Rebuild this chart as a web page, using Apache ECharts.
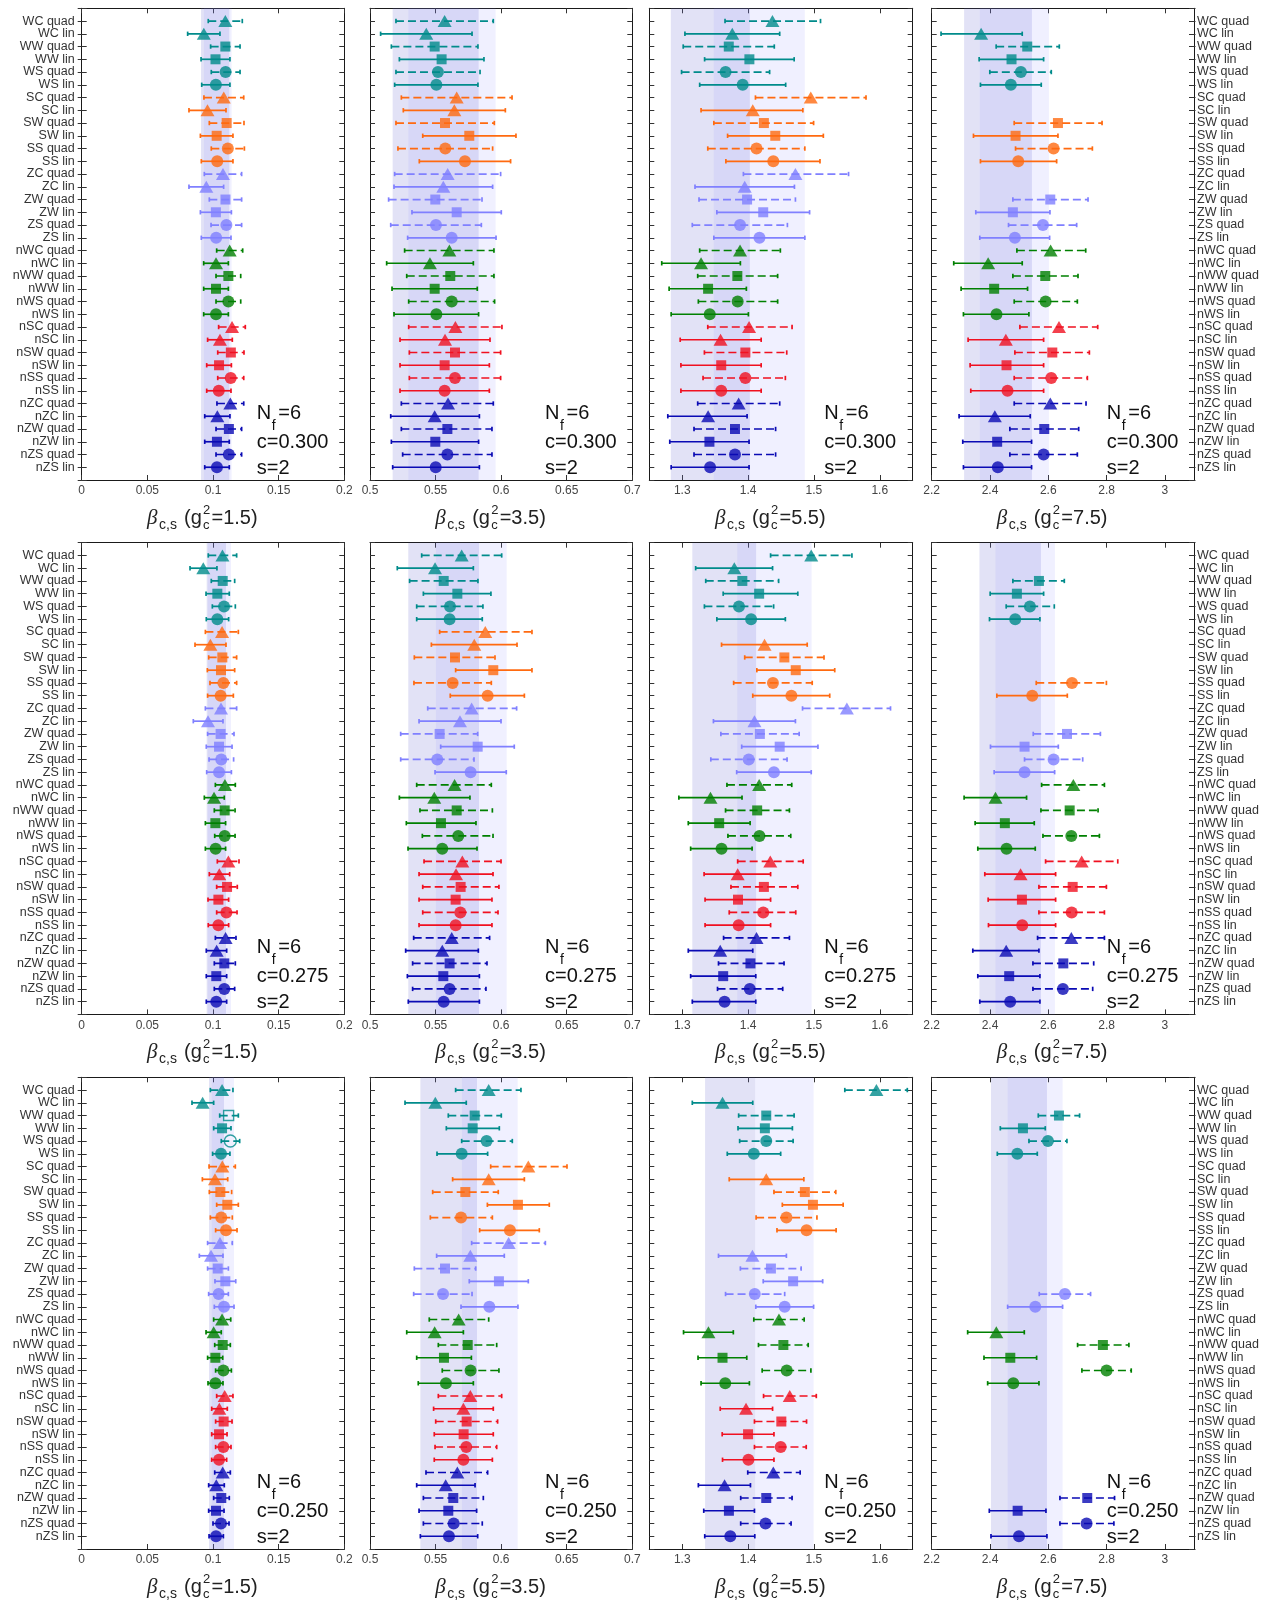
<!DOCTYPE html>
<html><head><meta charset="utf-8">
<script src="https://cdn.jsdelivr.net/npm/echarts@6/dist/echarts.min.js"></script>
<style>html,body{margin:0;padding:0;background:#fff}#c{width:1268px;height:1606px}</style>
</head><body><div id="c"></div>
<script>
const categories = ['WC quad','WC lin','WW quad','WW lin','WS quad','WS lin','SC quad','SC lin','SW quad','SW lin','SS quad','SS lin','ZC quad','ZC lin','ZW quad','ZW lin','ZS quad','ZS lin','nWC quad','nWC lin','nWW quad','nWW lin','nWS quad','nWS lin','nSC quad','nSC lin','nSW quad','nSW lin','nSS quad','nSS lin','nZC quad','nZC lin','nZW quad','nZW lin','nZS quad','nZS lin'];
const gLabels = ['1.5','3.5','5.5','7.5'];
const cLabels = ['0.300','0.275','0.250'];
const xTicks1 = [0,0.05,0.1,0.15,0.2];
const xTicks2 = [0.5,0.55,0.6,0.65,0.7];
const xTicks3 = [1.3,1.4,1.5,1.6];
const xTicks4 = [2.2,2.4,2.6,2.8,3.0];

// ---- c = 0.300 ----
const c300_g15_val=[0.1094,0.0930,0.1094,0.1019,0.1096,0.1022,0.1082,0.0958,0.1104,0.1028,0.1113,0.1032,0.1076,0.0949,0.1095,0.1022,0.1102,0.1024,0.1127,0.1023,0.1117,0.1023,0.1117,0.1023,0.1145,0.1053,0.1136,0.1046,0.1135,0.1044,0.1132,0.1033,0.1121,0.1030,0.1121,0.1030];
const c300_g15_lo=[0.0964,0.0807,0.0982,0.0909,0.0987,0.0914,0.0931,0.0817,0.0972,0.0904,0.0987,0.0911,0.0934,0.0817,0.0972,0.0904,0.0985,0.0911,0.1028,0.0929,0.1023,0.0929,0.1023,0.0929,0.1043,0.0959,0.1036,0.0952,0.1036,0.0952,0.1030,0.0937,0.1023,0.0937,0.1023,0.0937];
const c300_g15_hi=[0.1223,0.1053,0.1206,0.1129,0.1206,0.1129,0.1234,0.1099,0.1236,0.1152,0.1239,0.1152,0.1218,0.1081,0.1218,0.1140,0.1218,0.1137,0.1226,0.1117,0.1211,0.1117,0.1211,0.1117,0.1246,0.1147,0.1236,0.1140,0.1234,0.1137,0.1234,0.1129,0.1218,0.1124,0.1218,0.1124];
const c300_g15_band=[[0.0909,0.1124],[0.0931,0.1142]];

const c300_g35_val=[0.5569,0.5429,0.5493,0.5546,0.5518,0.5506,0.5661,0.5643,0.5572,0.5757,0.5574,0.5724,0.5592,0.5559,0.5498,0.5661,0.5503,0.5623,0.5605,0.5457,0.5612,0.5493,0.5623,0.5506,0.5651,0.5572,0.5648,0.5569,0.5648,0.5569,0.5595,0.5493,0.5590,0.5498,0.5590,0.5501];
const c300_g35_lo=[0.5198,0.5081,0.5163,0.5224,0.5198,0.5188,0.5239,0.5254,0.5198,0.5402,0.5213,0.5376,0.5188,0.5183,0.5142,0.5320,0.5158,0.5287,0.5264,0.5127,0.5280,0.5168,0.5295,0.5183,0.5295,0.5229,0.5300,0.5229,0.5300,0.5229,0.5239,0.5158,0.5239,0.5163,0.5249,0.5173];
const c300_g35_hi=[0.5940,0.5778,0.5823,0.5869,0.5839,0.5823,0.6083,0.6032,0.5948,0.6113,0.5935,0.6072,0.5996,0.5935,0.5854,0.6001,0.5849,0.5961,0.5945,0.5788,0.5945,0.5818,0.5950,0.5828,0.6006,0.5915,0.5996,0.5910,0.5996,0.5910,0.5940,0.5834,0.5930,0.5828,0.5930,0.5834];
const c300_g35_band=[[0.5173,0.5828],[0.5292,0.5958]];

const c300_g55_val=[1.437,1.376,1.3707,1.402,1.3658,1.3918,1.4952,1.4071,1.4240,1.4413,1.4128,1.4383,1.4719,1.3949,1.3985,1.4230,1.3878,1.4173,1.3878,1.3286,1.3837,1.3393,1.3842,1.3418,1.4015,1.3582,1.3959,1.3592,1.3959,1.3592,1.3857,1.3393,1.3801,1.3413,1.3801,1.3423];
const c300_g55_lo=[1.365,1.3041,1.3015,1.334,1.2990,1.3265,1.4112,1.3286,1.3480,1.3689,1.3388,1.3663,1.3929,1.3194,1.3255,1.3526,1.3153,1.3480,1.3265,1.2689,1.3235,1.2801,1.3245,1.2832,1.3388,1.2969,1.3337,1.2980,1.3316,1.2980,1.3235,1.2781,1.3179,1.2811,1.3179,1.2832];
const c300_g55_hi=[1.510,1.4480,1.4398,1.470,1.4327,1.4571,1.5791,1.4832,1.4995,1.5143,1.4862,1.5092,1.5526,1.4704,1.4719,1.4934,1.4597,1.4862,1.4490,1.3883,1.4449,1.3974,1.4449,1.4005,1.4668,1.4199,1.4587,1.4199,1.4566,1.4199,1.4480,1.3985,1.4418,1.4015,1.4418,1.4015];
const c300_g55_band=[[1.2827,1.4026],[1.3480,1.4862]];

const c300_g75_val=[null,2.3696,2.5278,2.4739,2.5060,2.4716,null,null,2.6332,2.4877,2.6183,2.4968,null,null,2.6069,2.4785,2.5817,2.4854,2.6080,2.3937,2.5897,2.4143,2.5908,2.4223,2.6367,2.4544,2.6138,2.4567,2.6103,2.4602,2.6069,2.4166,2.5862,2.4246,2.5840,2.4269];
const c300_g75_lo=[null,2.2321,2.4212,2.3628,2.3994,2.3673,null,null,2.4831,2.3433,2.4877,2.3673,null,null,2.4785,2.3513,2.4636,2.3650,2.4923,2.2756,2.4785,2.3009,2.4831,2.3089,2.5026,2.3249,2.4854,2.3318,2.4831,2.3341,2.4831,2.2940,2.4682,2.3066,2.4682,2.3089];
const c300_g75_hi=[null,2.5106,2.6378,2.5840,2.6103,2.5759,null,null,2.7845,2.6332,2.7513,2.6287,null,null,2.7364,2.6057,2.6974,2.6046,2.7284,2.5106,2.7020,2.5289,2.6997,2.5335,2.7696,2.5840,2.7410,2.5840,2.7341,2.5840,2.7295,2.5381,2.7043,2.5427,2.6997,2.5427];
const c300_g75_band=[[2.3112,2.5438],[2.3650,2.6023]];

// ---- c = 0.275 ----
const c275_g15_val=[0.1072,0.0926,0.1074,0.1033,0.1084,0.1033,0.1069,0.0980,0.1071,0.1061,0.1079,0.1058,0.1061,0.0962,0.1058,0.1046,0.1063,0.1046,0.1091,0.1008,0.1089,0.1018,0.1089,0.1020,0.1117,0.1048,0.1107,0.1041,0.1102,0.1041,0.1096,0.1028,0.1086,0.1025,0.1086,0.1025];
const c275_g15_lo=[0.0964,0.0825,0.0987,0.0947,0.0995,0.0949,0.0942,0.0863,0.0967,0.0957,0.0977,0.0959,0.0942,0.0850,0.0959,0.0949,0.0970,0.0952,0.1018,0.0934,0.1010,0.0942,0.1013,0.0942,0.1033,0.0972,0.1028,0.0962,0.1028,0.0964,0.1018,0.0949,0.1010,0.0949,0.1010,0.0949];
const c275_g15_hi=[0.1180,0.1030,0.1165,0.1124,0.1170,0.1119,0.1193,0.1099,0.1180,0.1165,0.1180,0.1155,0.1180,0.1076,0.1160,0.1145,0.1157,0.1140,0.1170,0.1086,0.1168,0.1096,0.1168,0.1096,0.1198,0.1127,0.1185,0.1119,0.1183,0.1119,0.1175,0.1104,0.1170,0.1104,0.1165,0.1104];
const c275_g15_band=[[0.0952,0.1099],[0.0960,0.1137]];

const c275_g35_val=[0.5699,0.5496,0.5562,0.5666,0.5610,0.5607,0.5879,0.5795,0.5648,0.5940,0.5630,0.5897,0.5775,0.5686,0.5531,0.5821,0.5513,0.5767,0.5645,0.5490,0.5661,0.5541,0.5673,0.5551,0.5704,0.5656,0.5691,0.5653,0.5689,0.5653,0.5623,0.5551,0.5607,0.5559,0.5607,0.5562];
const c275_g35_lo=[0.5394,0.5208,0.5302,0.5407,0.5356,0.5356,0.5531,0.5468,0.5338,0.5653,0.5335,0.5612,0.5440,0.5374,0.5234,0.5539,0.5234,0.5496,0.5356,0.5224,0.5381,0.5277,0.5399,0.5290,0.5412,0.5374,0.5402,0.5374,0.5402,0.5374,0.5333,0.5272,0.5325,0.5285,0.5325,0.5292];
const c275_g35_hi=[0.6004,0.5788,0.5823,0.5922,0.5861,0.5856,0.6235,0.6121,0.5953,0.6235,0.5925,0.6177,0.6118,0.5999,0.5821,0.6100,0.5793,0.6039,0.5925,0.5762,0.5933,0.5808,0.5938,0.5816,0.5999,0.5938,0.5983,0.5930,0.5976,0.5930,0.5912,0.5826,0.5892,0.5834,0.5884,0.5834];
const c275_g35_band=[[0.5292,0.5831],[0.5503,0.6042]];

const c275_g55_val=[1.4959,1.3791,1.3913,1.4168,1.3862,1.4046,null,1.4250,1.4551,1.4724,1.4378,1.4658,1.5500,1.4097,1.4179,1.4480,1.4010,1.4393,1.4168,1.3429,1.4138,1.3561,1.4173,1.3597,1.4337,1.3842,1.4240,1.3847,1.4230,1.3857,1.4128,1.3577,1.4036,1.3622,1.4026,1.3643];
const c275_g55_lo=[1.4342,1.3204,1.3357,1.3622,1.3337,1.3526,null,1.3597,1.3949,1.4133,1.3781,1.4071,1.4827,1.3474,1.3587,1.3903,1.3434,1.3827,1.3679,1.2949,1.3658,1.3092,1.3694,1.3128,1.3842,1.3332,1.3740,1.3347,1.3714,1.3347,1.3628,1.3092,1.3551,1.3128,1.3536,1.3153];
const c275_g55_hi=[1.5577,1.4372,1.4464,1.4755,1.4388,1.4566,null,1.4898,1.5153,1.5316,1.4974,1.5240,1.6163,1.4719,1.4776,1.5061,1.4592,1.4959,1.4663,1.3908,1.4628,1.4031,1.4648,1.4061,1.4837,1.4342,1.4755,1.4342,1.4724,1.4342,1.4628,1.4071,1.4546,1.4117,1.4526,1.4117];
const c275_g55_band=[[1.3153,1.4122],[1.3837,1.4964]];

const c275_g75_val=[null,null,2.5679,2.4923,2.5370,2.4865,null,null,null,null,2.6814,2.5450,null,null,2.6642,2.5186,2.6183,2.5186,2.6860,2.4189,2.6734,2.4510,2.6791,2.4567,2.7146,2.5049,2.6837,2.5095,2.6803,2.5106,2.6791,2.4556,2.6516,2.4659,2.6504,2.4693];
const c275_g75_lo=[null,null,2.4785,2.4006,2.4556,2.3983,null,null,null,null,2.5587,2.4235,null,null,2.5484,2.4017,2.5186,2.4143,2.5771,2.3112,2.5748,2.3490,2.5817,2.3582,2.5908,2.3822,2.5679,2.3937,2.5679,2.3948,2.5633,2.3410,2.5473,2.3582,2.5473,2.3650];
const c275_g75_hi=[null,null,2.6550,2.5840,2.6206,2.5713,null,null,null,null,2.7994,2.6653,null,null,2.7788,2.6344,2.7181,2.6218,2.7926,2.5255,2.7708,2.5519,2.7754,2.5553,2.8384,2.6252,2.7994,2.6252,2.7926,2.6252,2.7926,2.5679,2.7559,2.5713,2.7524,2.5713];
const c275_g75_band=[[2.3639,2.5748],[2.4189,2.6229]];

// ---- c = 0.250 ----
const c250_g15_val=[0.1069,0.0921,0.1119,0.1069,0.1132,0.1061,0.1071,0.1015,0.1056,0.1109,0.1063,0.1099,0.1053,0.0985,0.1036,0.1094,0.1043,0.1084,0.1069,0.1005,0.1074,0.1018,0.1079,0.1018,0.1089,0.1048,0.1081,0.1046,0.1079,0.1046,0.1074,0.1025,0.1063,0.1023,0.1061,0.1023];
const c250_g15_lo=[0.0980,0.0840,0.1051,0.1005,0.1063,0.0997,0.0970,0.0919,0.0972,0.1028,0.0980,0.1020,0.0959,0.0896,0.0959,0.1015,0.0967,0.1010,0.1005,0.0947,0.1013,0.0959,0.1020,0.0962,0.1028,0.0990,0.1020,0.0990,0.1020,0.0990,0.1013,0.0967,0.1005,0.0967,0.1000,0.0970];
const c250_g15_hi=[0.1152,0.1005,0.1193,0.1137,0.1203,0.1129,0.1170,0.1112,0.1142,0.1193,0.1147,0.1183,0.1147,0.1076,0.1117,0.1173,0.1117,0.1160,0.1135,0.1063,0.1132,0.1074,0.1140,0.1076,0.1152,0.1109,0.1145,0.1107,0.1137,0.1104,0.1132,0.1086,0.1124,0.1084,0.1122,0.1079];
const c250_g15_band=[[0.0970,0.1084],[0.0990,0.1160]];
const c250_g15_hollow=['WW quad','WS quad'];

const c250_g35_val=[0.5905,0.5498,0.5798,0.5783,0.5889,0.5699,0.6207,0.5905,0.5727,0.6128,0.5694,0.6067,0.6057,0.5765,0.5572,0.5983,0.5557,0.5910,0.5676,0.5493,0.5745,0.5564,0.5767,0.5579,0.5765,0.5712,0.5737,0.5714,0.5734,0.5712,0.5666,0.5577,0.5635,0.5597,0.5638,0.5602];
const c250_g35_lo=[0.5653,0.5267,0.5597,0.5582,0.5699,0.5511,0.5920,0.5630,0.5478,0.5895,0.5460,0.5836,0.5775,0.5508,0.5338,0.5757,0.5333,0.5694,0.5452,0.5280,0.5521,0.5356,0.5551,0.5368,0.5521,0.5485,0.5501,0.5490,0.5496,0.5490,0.5427,0.5356,0.5407,0.5374,0.5407,0.5384];
const c250_g35_hi=[0.6151,0.5734,0.6001,0.5986,0.6085,0.5897,0.6502,0.6177,0.5978,0.6367,0.5933,0.6291,0.6337,0.6024,0.5806,0.6207,0.5778,0.6128,0.5905,0.5712,0.5966,0.5773,0.5983,0.5788,0.6004,0.5940,0.5973,0.5940,0.5966,0.5933,0.5897,0.5801,0.5864,0.5813,0.5856,0.5821];
const c250_g35_band=[[0.5384,0.5816],[0.5701,0.6126]];

const c250_g55_val=[1.5949,1.3612,1.4276,1.4255,1.4276,1.4087,null,1.4276,1.4862,1.4985,1.4582,1.4888,null,1.4066,1.4347,1.4684,1.4102,1.4556,1.4469,1.3398,1.4536,1.3612,1.4587,1.3653,1.4633,1.3969,1.4505,1.4000,1.4495,1.4005,1.4383,1.3643,1.4276,1.3709,1.4265,1.3730];
const c250_g55_lo=[1.5469,1.3153,1.3857,1.3847,1.3872,1.3684,null,1.3714,1.4393,1.4520,1.4122,1.4439,null,1.3551,1.3883,1.4230,1.3658,1.4117,1.4087,1.3020,1.4158,1.3240,1.4214,1.3286,1.4235,1.3577,1.4097,1.3607,1.4097,1.3612,1.3995,1.3245,1.3888,1.3327,1.3888,1.3342];
const c250_g55_hi=[1.6418,1.4071,1.4699,1.4673,1.4684,1.4495,null,1.4847,1.5332,1.5444,1.5046,1.5337,null,1.4582,1.4806,1.5133,1.4556,1.4995,1.4852,1.3776,1.4913,1.3980,1.4954,1.4020,1.5036,1.4372,1.4888,1.4393,1.4883,1.4393,1.4791,1.4036,1.4668,1.4097,1.4653,1.4102];
const c250_g55_band=[[1.3347,1.4107],[1.4107,1.4995]];

const c250_g75_val=[null,null,2.6366,2.5131,2.5989,2.4937,null,null,null,null,null,null,null,null,null,null,2.6571,2.5554,null,2.4217,2.7874,2.4697,2.8000,2.4800,null,null,null,null,null,null,null,null,2.7337,2.4949,2.7314,2.4994];
const c250_g75_lo=[null,null,2.5657,2.4354,2.5337,2.4251,null,null,null,null,null,null,null,null,null,null,2.5691,2.4606,null,2.3234,2.7006,2.3794,2.7154,2.3920,null,null,null,null,null,null,null,null,2.6400,2.3977,2.6400,2.4034];
const c250_g75_hi=[null,null,2.7074,2.5897,2.6640,2.5623,null,null,null,null,null,null,null,null,null,null,2.7451,2.6491,null,2.5177,2.8766,2.5600,2.8846,2.5680,null,null,null,null,null,null,null,null,2.8274,2.5920,2.8251,2.5954];
const c250_g75_band=[[2.4034,2.5954],[2.4606,2.6491]];

// ---------- layout / style ----------
const COLORS = ['#008b8b','#ff6a10','#8080ff','#008000','#f01020','#0a0ab4'];
const SHAPES = ['triangle','triangle','rect','rect','circle','circle'];
const SIZES = {triangle:[14,12], rect:10, circle:12};
const BAND_COLORS = ['rgba(110,110,210,0.20)','rgba(130,130,255,0.12)'];
const COLS = [
  {left:81.7, width:262.6, min:0, max:0.2, interval:0.05, ticks:xTicks1},
  {left:370, width:262.3, min:0.5, max:0.7, interval:0.05, ticks:xTicks2},
  {left:649.3, width:263.4, min:1.25, max:1.65, interval:0.05, ticks:xTicks3},
  {left:931.7, width:262.3, min:2.2, max:3.1, interval:0.2, ticks:xTicks4}
];
const ROW_TOPS = [8.3, 542.7, 1077.3];
const ROW_H = 471.7;
const FONT = 'Liberation Sans';

const panels = [
  [c300_g15_val,c300_g15_lo,c300_g15_hi,c300_g15_band,[]],
  [c300_g35_val,c300_g35_lo,c300_g35_hi,c300_g35_band,[]],
  [c300_g55_val,c300_g55_lo,c300_g55_hi,c300_g55_band,[]],
  [c300_g75_val,c300_g75_lo,c300_g75_hi,c300_g75_band,[]],
  [c275_g15_val,c275_g15_lo,c275_g15_hi,c275_g15_band,[]],
  [c275_g35_val,c275_g35_lo,c275_g35_hi,c275_g35_band,[]],
  [c275_g55_val,c275_g55_lo,c275_g55_hi,c275_g55_band,[]],
  [c275_g75_val,c275_g75_lo,c275_g75_hi,c275_g75_band,[]],
  [c250_g15_val,c250_g15_lo,c250_g15_hi,c250_g15_band,c250_g15_hollow],
  [c250_g35_val,c250_g35_lo,c250_g35_hi,c250_g35_band,[]],
  [c250_g55_val,c250_g55_lo,c250_g55_hi,c250_g55_band,[]],
  [c250_g75_val,c250_g75_lo,c250_g75_hi,c250_g75_band,[]]
];

function fmtNum(v){ return String(parseFloat(v.toFixed(4))); }

const option = {animation:false, grid:[], xAxis:[], yAxis:[], series:[], graphic:[]};
const lineStyleAxis = {color:'#1a1a1a', width:1};
const tickStyle = {color:'#333', width:1};

panels.forEach((p, k) => {
  const [val, lo, hi, band, hollow] = p;
  const r = Math.floor(k/4), c = k % 4;
  const C = COLS[c];
  option.grid.push({left:C.left, top:ROW_TOPS[r], width:C.width, height:ROW_H});
  const xb = option.xAxis.length;
  const xCommon = {type:'value', gridIndex:k, min:C.min, max:C.max, interval:C.interval, splitLine:{show:false}};
  const tickVals = C.ticks;
  option.xAxis.push(Object.assign({}, xCommon, {
    position:'bottom',
    axisLine:{show:true, onZero:false, lineStyle:lineStyleAxis},
    axisTick:{show:true, inside:true, length:5, lineStyle:tickStyle, customValues:tickVals},
    axisLabel:{show:true, margin:5, fontSize:12, color:'#444', fontFamily:FONT, customValues:tickVals,
      formatter:(v)=>{ return tickVals.some(t=>Math.abs(t-v)<1e-9) ? fmtNum(v) : ''; }}
  }));
  option.xAxis.push(Object.assign({}, xCommon, {
    position:'top',
    axisLine:{show:true, onZero:false, lineStyle:lineStyleAxis},
    axisTick:{show:true, inside:true, length:5, lineStyle:tickStyle, customValues:tickVals},
    axisLabel:{show:false}
  }));
  const yCommon = {type:'value', gridIndex:k, min:0, max:37, interval:1, inverse:true, splitLine:{show:false}};
  const yl = option.yAxis.length;
  const catFmt = (v)=> (v>=1 && v<=36) ? categories[Math.round(v)-1] : '';
  option.yAxis.push(Object.assign({}, yCommon, {
    position:'left',
    axisLine:{show:true, onZero:false, lineStyle:lineStyleAxis},
    axisTick:{show:true, inside:true, length:5, lineStyle:tickStyle},
    axisLabel:{show:c===0, margin:7, fontSize:12.5, color:'#333', fontFamily:FONT, formatter:catFmt}
  }));
  if (c===0) option.yAxis.push(Object.assign({}, yCommon, {
    position:'left', axisLine:{show:false}, axisTick:{show:true, inside:false, length:4, lineStyle:tickStyle}, axisLabel:{show:false}
  }));
  option.yAxis.push(Object.assign({}, yCommon, {
    position:'right',
    axisLine:{show:true, onZero:false, lineStyle:lineStyleAxis},
    axisTick:{show:true, inside:true, length:5, lineStyle:tickStyle},
    axisLabel:{show:c===3, margin:3, fontSize:12.5, color:'#333', fontFamily:FONT, formatter:catFmt}
  }));
  if (c===3) option.yAxis.push(Object.assign({}, yCommon, {
    position:'right', axisLine:{show:false}, axisTick:{show:true, inside:false, length:1.5, lineStyle:tickStyle}, axisLabel:{show:false}
  }));

  // bands
  option.series.push({
    type:'custom', xAxisIndex:xb, yAxisIndex:yl, z:1, silent:true,
    data: band.map((b,i)=>[b[0], b[1], i]),
    encode:{x:[0,1]},
    renderItem:(params, api)=>{
      const a = api.coord([api.value(0), 0]);
      const b = api.coord([api.value(1), 37]);
      return {type:'rect', shape:{x:Math.min(a[0],b[0]), y:Math.min(a[1],b[1]), width:Math.abs(b[0]-a[0]), height:Math.abs(b[1]-a[1])},
        style:{fill:BAND_COLORS[api.value(2)]}};
    }
  });
  // error bars + markers
  const errData = [];
  const ptData = [];
  categories.forEach((name, i) => {
    if (val[i] == null) return;
    const y = i + 1;
    errData.push([lo[i], hi[i], y]);
    const shape = SHAPES[i % 6];
    const color = COLORS[Math.floor(i/6)];
    const isHollow = hollow.indexOf(name) >= 0;
    ptData.push({value:[val[i], y], symbol:shape, symbolSize:SIZES[shape],
      itemStyle: isHollow ? {color:'rgba(255,255,255,0)', borderColor:color, borderWidth:1.4} : {color:color}});
  });
  option.series.push({
    type:'custom', xAxisIndex:xb, yAxisIndex:yl, z:2, silent:true,
    data: errData, encode:{x:[0,1], y:2},
    renderItem:(params, api)=>{
      const y = api.value(2);
      const i = Math.round(y) - 1;
      const quad = (i % 2) === 0;
      const color = COLORS[Math.floor(i/6)];
      const p1 = api.coord([api.value(0), y]);
      const p2 = api.coord([api.value(1), y]);
      const st = {stroke:color, lineWidth:1.7, fill:null};
      const h = 2.2;
      return {type:'group', children:[
        {type:'line', shape:{x1:p1[0], y1:p1[1], x2:p2[0], y2:p2[1]}, style:Object.assign({}, st, quad ? {lineDash:[8,4]} : {})},
        {type:'line', shape:{x1:p1[0], y1:p1[1]-h, x2:p1[0], y2:p1[1]+h}, style:st},
        {type:'line', shape:{x1:p2[0], y1:p2[1]-h, x2:p2[0], y2:p2[1]+h}, style:st}
      ]};
    }
  });
  option.series.push({type:'scatter', xAxisIndex:xb, yAxisIndex:yl, z:3, silent:true, data:ptData});

  // annotations
  const L = C.left, T = ROW_TOPS[r];
  const ax = L + 175;
  const tx = (text, x, y, size, extra) => Object.assign({type:'text', x:x, y:y, silent:true,
    style:Object.assign({text:text, fontSize:size, fontFamily:FONT, fill:'#111', textAlign:'left', textVerticalAlign:'middle'}, extra||{})});
  option.graphic.push(tx('N', ax, T+405, 20));
  option.graphic.push(tx('f', ax+15, T+417.5, 14));
  option.graphic.push(tx('=6', ax+21.5, T+405, 20));
  option.graphic.push(tx('c='+cLabels[r], ax, T+434, 20));
  option.graphic.push(tx('s=2', ax, T+459.7, 20));

  // axis name: beta_{c,s} (g_c^2 = g)
  const cx = L + C.width/2 - 5;
  const ny = T + ROW_H + 38;
  const x0 = cx - 61;
  option.graphic.push(tx('\u03b2', x0, ny, 21, {fontFamily:'Liberation Serif', fontStyle:'italic', fill:'#222'}));
  option.graphic.push(tx('c,s', x0+12, ny+7, 14, {fill:'#222'}));
  option.graphic.push(tx('(g', x0+37, ny, 20, {fill:'#222'}));
  option.graphic.push(tx('2', x0+56, ny-8, 13, {fill:'#222'}));
  option.graphic.push(tx('c', x0+56, ny+7, 13, {fill:'#222'}));
  option.graphic.push(tx('='+gLabels[c]+')', x0+64.5, ny, 20, {fill:'#222'}));
});

const chart = echarts.init(document.getElementById('c'), null, {renderer:'canvas'});
chart.setOption(option);
</script></body></html>
